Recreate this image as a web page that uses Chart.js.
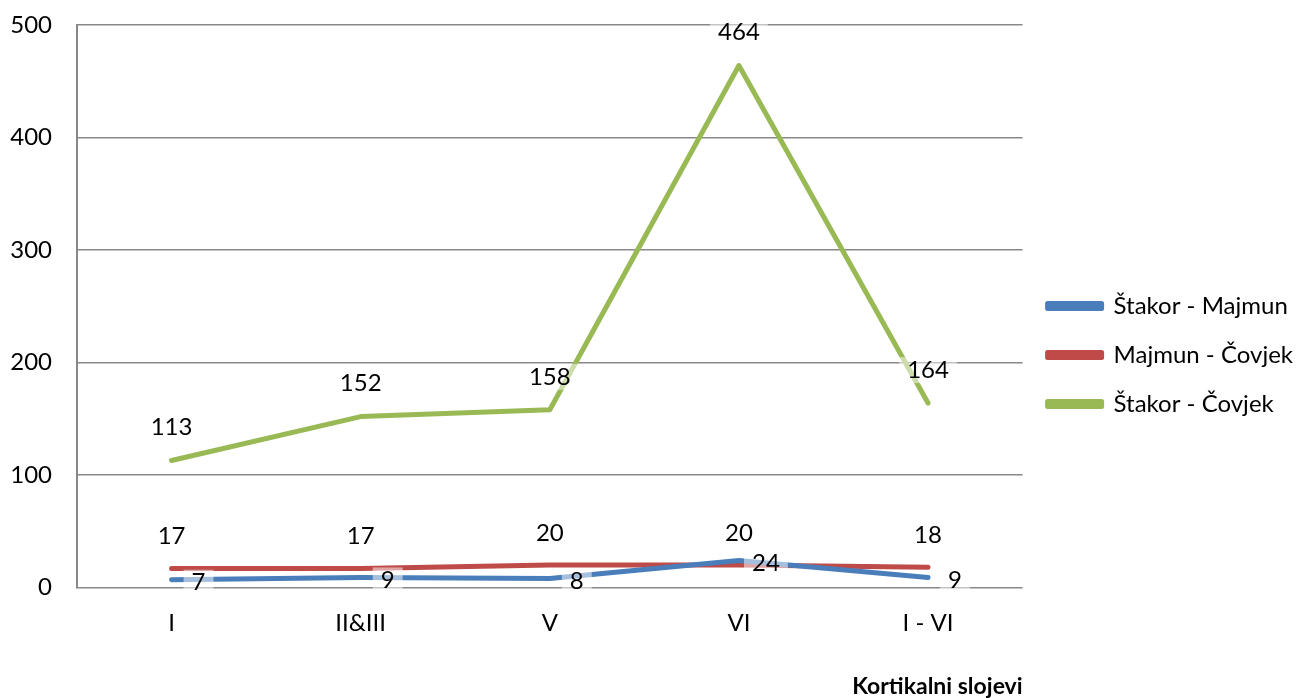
<!DOCTYPE html>
<html>
<head>
<meta charset="utf-8">
<script src="https://cdn.jsdelivr.net/npm/chart.js@4"></script>
<style>
  html, body { margin: 0; padding: 0; background: #fff; }
  #wrap { width: 1312px; height: 698px; }
</style>
</head>
<body>
<div id="wrap"><canvas id="chart"></canvas></div>
<script>
const categories = ["I", "II&III", "V", "VI", "I - VI"];
const seriesNames = ["Štakor - Majmun", "Majmun - Čovjek", "Štakor - Čovjek"];
const ratMonkey = [7, 9, 8, 24, 9];
const monkeyHuman = [17, 17, 20, 20, 18];
const ratHuman = [113, 152, 158, 464, 164];
const yTicks = [0, 100, 200, 300, 400, 500];

const FONT = "Lato";
const FS = 24;

// value labels: offset from the point, per series
const labelOffsets = [
    { dx: 27, dy: 3 },
    { dx: 0, dy: -32 },
    { dx: 0, dy: -33 }
];

const valueLabels = {
    id: 'valueLabels',
    afterDatasetsDraw(chart) {
        const ctx = chart.ctx;
        ctx.save();
        ctx.font = FS + 'px ' + FONT;
        ctx.textAlign = 'center';
        ctx.textBaseline = 'middle';
        chart.data.datasets.forEach((ds, i) => {
            const meta = chart.getDatasetMeta(i);
            meta.data.forEach((pt, j) => {
                const x = pt.x + labelOffsets[i].dx;
                const y = pt.y + labelOffsets[i].dy;
                const txt = String(ds.data[j]);
                const w = ctx.measureText(txt).width + 16;
                ctx.fillStyle = 'rgba(255,255,255,0.5)';
                ctx.fillRect(x - w / 2, y - 13, w, 26);
                ctx.fillStyle = '#000';
                ctx.fillText(txt, x, y);
            });
        });
        ctx.restore();
    }
};

new Chart(document.getElementById("chart"), {
    type: 'line',
    data: {
        labels: categories,
        datasets: [
            {
                label: seriesNames[0],
                data: ratMonkey,
                borderColor: '#4A7EBB',
                backgroundColor: '#4A7EBB'
            },
            {
                label: seriesNames[1],
                data: monkeyHuman,
                borderColor: '#BE4B48',
                backgroundColor: '#BE4B48'
            },
            {
                label: seriesNames[2],
                data: ratHuman,
                borderColor: '#98B954',
                backgroundColor: '#98B954'
            }
        ]
    },
    options: {
        responsive: true,
        maintainAspectRatio: false,
        animation: false,
        datasets: {
            line: {
                borderWidth: 5,
                pointRadius: 0,
                tension: 0,
                borderCapStyle: 'round',
                borderJoinStyle: 'round'
            }
        },
        layout: {
            padding: { top: 10, left: 10, right: 9, bottom: -2 }
        },
        scales: {
            x: {
                offset: true,
                grid: { display: false, drawTicks: false },
                border: { display: false },
                ticks: {
                    color: '#000',
                    padding: 21,
                    font: { family: FONT, size: FS }
                },
                title: {
                    display: true,
                    text: 'Kortikalni slojevi',
                    align: 'end',
                    color: '#000',
                    font: { family: FONT, size: 23, weight: 'bold' },
                    padding: { top: 14, bottom: 0 }
                }
            },
            y: {
                min: 0,
                max: 500,
                afterBuildTicks: axis => {
                    axis.ticks = yTicks.map(v => ({ value: v }));
                },
                afterFit: axis => {
                    axis.width = 67;
                    axis.paddingTop = 25;
                    axis.paddingBottom = 0;
                },
                grid: {
                    color: '#888888',
                    lineWidth: 1.5,
                    drawTicks: false
                },
                border: { display: true, color: '#888888', width: 2 },
                ticks: {
                    color: '#000',
                    padding: 25,
                    font: { family: FONT, size: FS }
                }
            }
        },
        plugins: {
            legend: {
                position: 'right',
                align: 'center',
                labels: {
                    color: '#000',
                    boxWidth: 54,
                    boxHeight: 5,
                    padding: 25,
                    font: { family: FONT, size: FS }
                }
            },
            tooltip: { enabled: false }
        }
    },
    plugins: [valueLabels]
});
</script>
</body>
</html>
